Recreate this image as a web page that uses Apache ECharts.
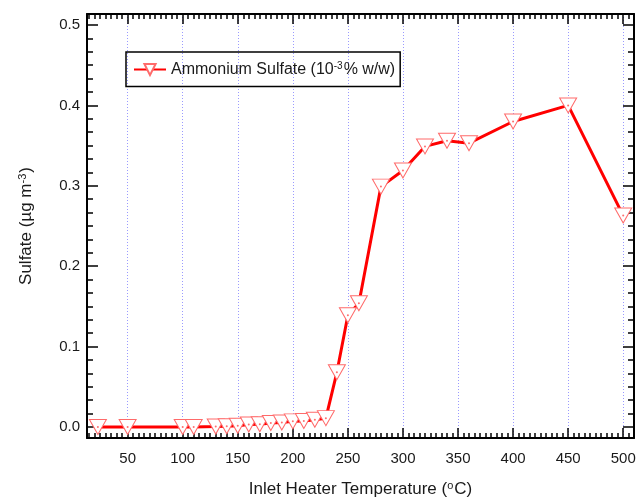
<!DOCTYPE html>
<html>
<head>
<meta charset="utf-8">
<script src="https://cdn.jsdelivr.net/npm/echarts@6/dist/echarts.min.js"></script>
<style>
html, body { margin: 0; padding: 0; background: #fff; }
#chart { width: 636px; height: 498px; }
</style>
</head>
<body>
<div id="chart"></div>
<script>
// Inlet heater temperature (°C) and measured sulfate (µg m^-3)
const temperatures = [23, 50, 100, 110, 130, 140, 150, 160, 170, 180, 190, 200, 210,
  220, 230, 240, 250, 260, 280, 300, 320, 340, 360, 400, 450, 500];
const sulfate = [0, 0, 0, 0, 0.0005, 0.001, 0.0015, 0.003, 0.0035, 0.005, 0.0055, 0.007,
  0.0075, 0.009, 0.011, 0.068, 0.139, 0.154, 0.299, 0.319, 0.349, 0.356, 0.353, 0.38, 0.4, 0.263];

// Labelled tick positions
const xTickValues = [50, 100, 150, 200, 250, 300, 350, 400, 450, 500];
const yTickValues = [0, 0.1, 0.2, 0.3, 0.4, 0.5];

const seriesName = 'Ammonium Sulfate';
const legendLabel = 'Ammonium Sulfate (10{sup|-3}{a|% w/w)}';
const xTitle = 'Inlet Heater Temperature ({sup|o}C)';
const yTitle = 'Sulfate (µg m{sup|-3})';

// Axis extents
const X_MIN = 13.1, X_MAX = 509.8;
const Y_MIN = -0.0137, Y_MAX = 0.5137;

// Minor ticks: every 5 °C on x, six subdivisions per 0.1 on y
const xMinor = [];
for (let v = 15; v <= X_MAX; v += 5) if (v % 50 !== 0) xMinor.push(v);
const yMinor = [];
for (let k = 1; k < 31; k++) if (k % 6 !== 0) yMinor.push(k / 60);

const FONT = '"Liberation Sans", Arial, sans-serif';
const TEXT = '#1a1a1a';
const supSmall = { fontSize: 10, fontFamily: FONT, color: TEXT, verticalAlign: 'top', padding: [0, 1, 7, 0] };
const supTitle = { fontSize: 11, fontFamily: FONT, color: TEXT, verticalAlign: 'top', padding: [0, 1, 8, 0] };

function tickAxis(kind, position, values, len, opts) {
  const isX = kind === 'x';
  return Object.assign({
    type: 'value',
    position: position,
    min: isX ? X_MIN : Y_MIN,
    max: isX ? X_MAX : Y_MAX,
    axisLine: { show: false, onZero: false },
    axisTick: {
      show: true, inside: true, length: len, customValues: values,
      lineStyle: { color: '#000', width: 1.5 }
    },
    axisLabel: { show: false },
    splitLine: { show: false }
  }, opts || {});
}

const frameLine = { show: true, onZero: false, lineStyle: { color: '#000', width: 2 } };

const chart = echarts.init(document.getElementById('chart'), null, { renderer: 'canvas' });

chart.setOption({
  animation: false,
  backgroundColor: '#fff',
  grid: { left: 87, right: 2, top: 14, bottom: 60, containLabel: false, outerBoundsMode: 'none' },
  legend: {
    data: [seriesName],
    left: 126,
    top: 52,
    orient: 'horizontal',
    padding: [9, 5, 9, 7],
    itemWidth: 32,
    itemHeight: 14,
    itemGap: 0,
    borderColor: '#000',
    borderWidth: 1.5,
    formatter: () => legendLabel,
    textStyle: {
      fontFamily: FONT, fontSize: 16, color: TEXT,
      rich: { sup: supSmall, a: { fontFamily: FONT, fontSize: 16, color: TEXT } }
    }
  },
  xAxis: [
    tickAxis('x', 'bottom', xTickValues, 10, {
      axisLine: frameLine,
      axisLabel: {
        show: true, customValues: xTickValues, margin: 13,
        fontFamily: FONT, fontSize: 15, color: TEXT,
        formatter: v => String(Math.round(v))
      },
      splitLine: { show: true, lineStyle: { color: '#9a9aff', width: 1, type: [1, 2] } },
      name: xTitle,
      nameLocation: 'middle',
      nameGap: 42,
      nameTextStyle: { fontFamily: FONT, fontSize: 17, color: TEXT, rich: { sup: supTitle } }
    }),
    tickAxis('x', 'bottom', xMinor, 5),
    tickAxis('x', 'top', xTickValues, 10, { axisLine: frameLine }),
    tickAxis('x', 'top', xMinor, 5)
  ],
  yAxis: [
    tickAxis('y', 'left', yTickValues, 11, {
      axisLine: frameLine,
      axisLabel: {
        show: true, customValues: yTickValues, margin: 7,
        fontFamily: FONT, fontSize: 15, color: TEXT,
        formatter: v => v.toFixed(1)
      },
      name: yTitle,
      nameLocation: 'middle',
      nameGap: 51,
      nameTextStyle: { fontFamily: FONT, fontSize: 17, color: TEXT, rich: { sup: supTitle } }
    }),
    tickAxis('y', 'left', yMinor, 6),
    tickAxis('y', 'right', yTickValues, 11, { axisLine: frameLine }),
    tickAxis('y', 'right', yMinor, 6)
  ],
  series: [
    {
      name: seriesName,
      type: 'line',
      xAxisIndex: 0,
      yAxisIndex: 0,
      data: temperatures.map((t, i) => [t, sulfate[i]]),
      showAllSymbol: true,
      symbol: 'triangle',
      symbolRotate: 180,
      symbolSize: [17, 15],
      lineStyle: { color: '#ff0000', width: 3 },
      itemStyle: { color: '#ffffff', borderColor: '#ff6a6a', borderWidth: 1 },
      z: 3
    },
    {
      // small centre dot inside each marker
      type: 'scatter',
      xAxisIndex: 0,
      yAxisIndex: 0,
      data: temperatures.map((t, i) => [t, sulfate[i]]),
      symbol: 'circle',
      symbolSize: 2,
      itemStyle: { color: '#ff4a4a' },
      silent: true,
      z: 4
    }
  ]
});
</script>
</body>
</html>
